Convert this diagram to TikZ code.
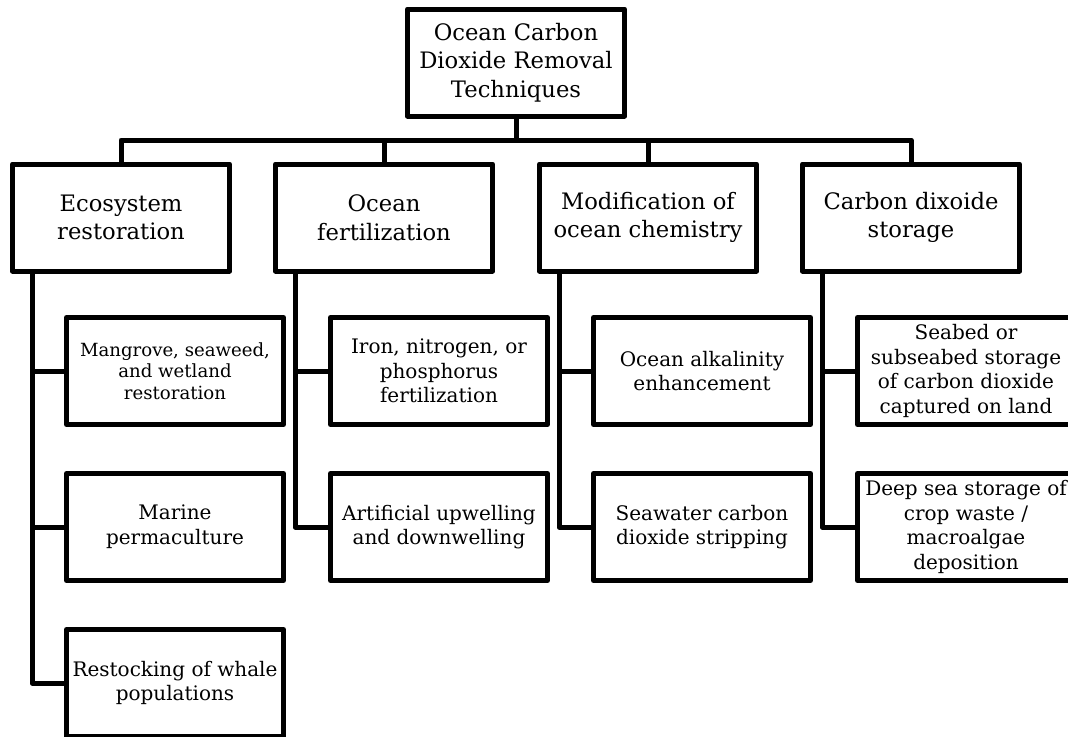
\documentclass[tikz,border=0pt]{standalone}
\usepackage{fontspec}
\setmainfont{DejaVu Serif}

\tikzset{
  box/.style={draw, line width=3.75pt, line join=round, align=center,
    minimum width=162.75pt, minimum height=80.25pt, inner sep=0pt},
  headbox/.style={box, font=\fontsize{17}{21.4}\selectfont},
  techbox/.style={box, font=\fontsize{15}{18.5}\selectfont},
  smallbox/.style={box, font=\fontsize{13.6}{16.2}\selectfont},
  link/.style={line width=3.75pt, line join=round},
}

\begin{document}
\begin{tikzpicture}[x=0.75pt, y=-0.75pt]
    \useasboundingbox (0, 0) rectangle (1068, 736);
    \clip (0, 0) rectangle (1068, 736);

    % top of the tree
    \node[headbox] (ocdr) at (516, 62.5) {Ocean Carbon \\ Dioxide Removal \\ Techniques};
    \coordinate (bus) at (516, 140);

    % four groups
    \node[headbox] (eco) at (121, 217.5) {Ecosystem \\ restoration};
    \node[headbox] (fert) at (384, 217.5) {Ocean \\ fertilization};
    \node[headbox] (chem) at (648, 217.5) {Modification of \\ ocean chemistry};
    \node[headbox] (store) at (911, 217.5) {Carbon dixoide \\ storage};

    % techniques
    \node[smallbox] (mangrove) at (175, 371) {Mangrove, seaweed, \\ and wetland \\ restoration};
    \node[techbox] (perma) at (175, 527) {Marine \\ permaculture};
    \node[techbox] (whale) at (175, 683) {Restocking of whale \\ populations};

    \node[techbox] (iron) at (439, 371) {Iron, nitrogen, or \\ phosphorus \\ fertilization};
    \node[techbox] (upwell) at (439, 527) {Artificial upwelling \\ and downwelling};

    \node[techbox] (alk) at (702, 371) {Ocean alkalinity \\ enhancement};
    \node[techbox] (strip) at (702, 527) {Seawater carbon \\ dioxide stripping};

    \node[techbox] (seabed) at (966, 371) {Seabed or \\ subseabed storage \\ of carbon dioxide \\ captured on land};
    \node[techbox] (deepsea) at (966, 527) {Deep sea storage of \\ crop waste / \\ macroalgae \\ deposition};

    % connectors
    \draw[link] (ocdr.south) -- (bus);
    \draw[link] (eco.north) |- (bus) -| (store.north);
    \draw[link] (fert.north) -- (fert.north |- bus);
    \draw[link] (chem.north) -- (chem.north |- bus);

    \foreach \grp/\tech in {eco/mangrove, eco/perma, eco/whale,
      fert/iron, fert/upwell, chem/alk, chem/strip,
      store/seabed, store/deepsea}
      \draw[link] ([xshift=16.5pt]\grp.south west) |- (\tech.west);
  \end{tikzpicture}
\end{document}
